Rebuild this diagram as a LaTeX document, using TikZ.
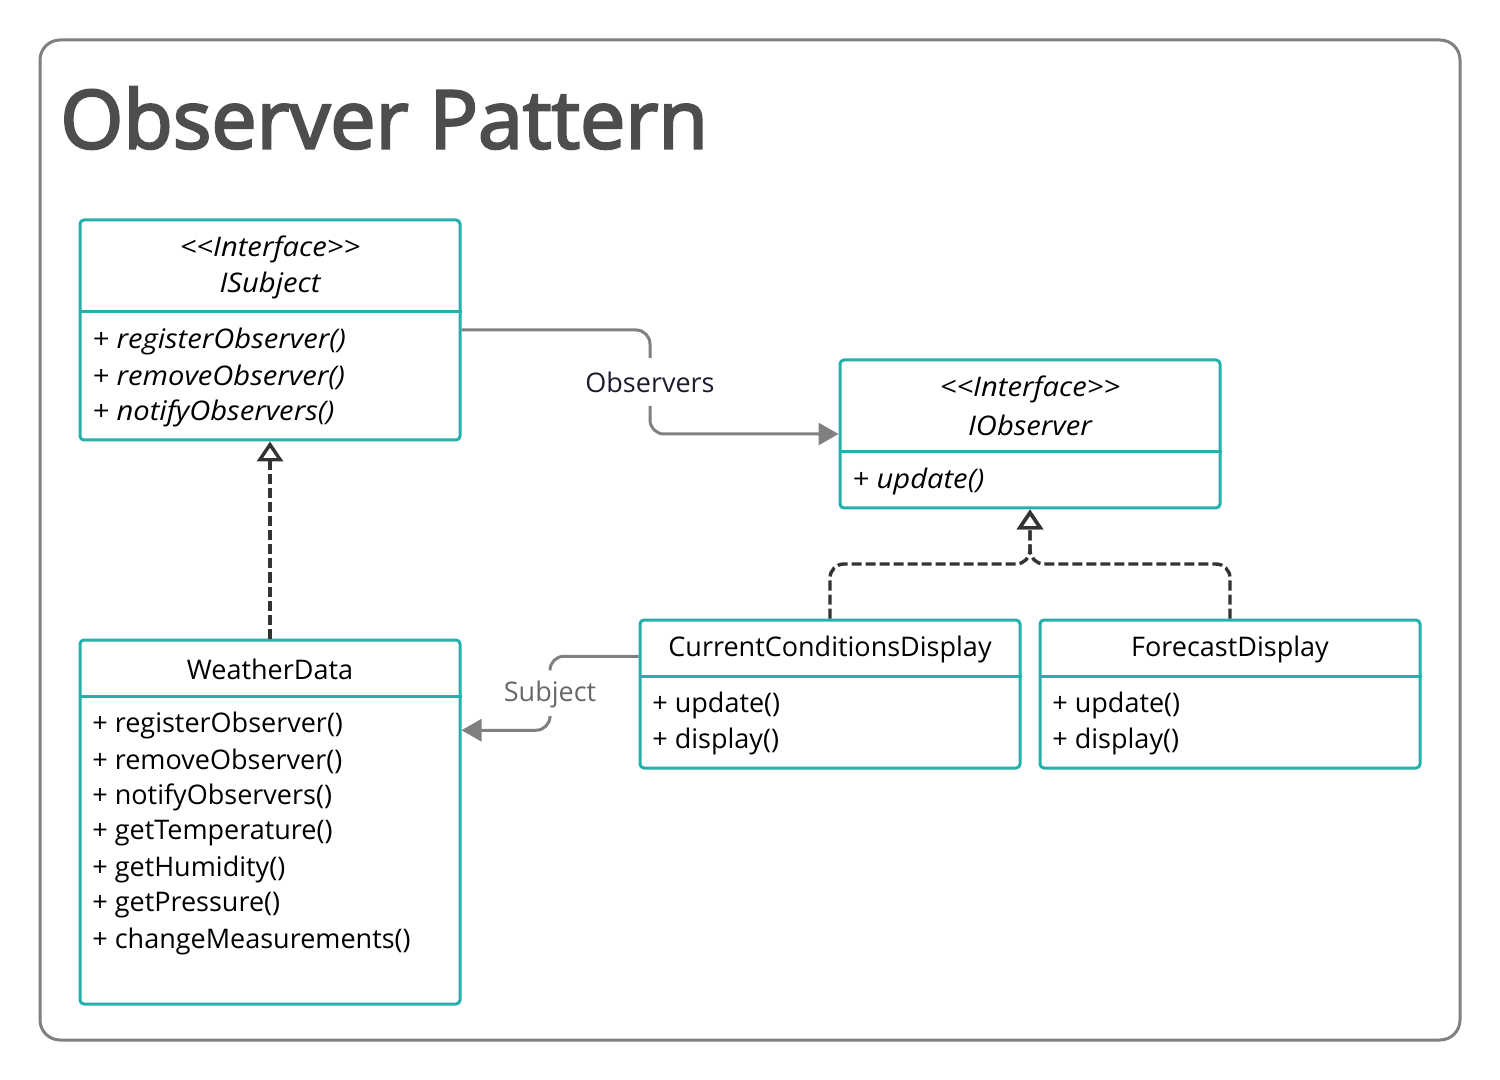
\documentclass[tikz,border=0pt]{standalone}
\usepackage{fontspec}
\setmainfont{Open Sans}[ItalicFeatures={FakeStretch=1.08}]
\newfontfamily\titlefont{Open Sans}[FakeBold=3]
\usetikzlibrary{arrows.meta,calc}

\definecolor{umlteal}{HTML}{26B0AC}
\definecolor{linegray}{HTML}{808080}
\definecolor{titlegray}{HTML}{4D4D4D}
\definecolor{dashgray}{HTML}{333333}
\definecolor{inkblue}{HTML}{1C1C2E}

\tikzset{
    umlbox/.style={draw=umlteal, line width=1.5pt, rounded corners=2pt, minimum width=190pt, inner sep=0pt},
    divider/.style={draw=umlteal, line width=1.5pt},
    txt/.style={inner sep=0pt, font=\fontsize{13.5}{16}\selectfont},
    itxt/.style={txt, font=\fontsize{13.5}{16}\selectfont\itshape},
    member/.style={txt, anchor=west},
    imember/.style={itxt, anchor=west},
    assoc/.style={draw=linegray, line width=1.5pt, rounded corners=7pt},
    filled/.style={-{Triangle[length=10pt, width=11pt]}},
    realize/.style={draw=dashgray, line width=1.7pt, dash pattern=on 5pt off 2pt, rounded corners=7pt},
    hollow/.style={-{Triangle[open, length=10pt, width=13pt]}}
}

\newcommand{\stereo}[1]{{<}\kern0pt{<}#1{>}\kern0pt{>}}

\begin{document}
\begin{tikzpicture}[x=0.5pt, y=-0.5pt]
    \useasboundingbox (0,0) rectangle (1500,1080);
    \draw[linegray, line width=1.5pt, rounded corners=10pt] (40,40) rectangle (1460,1040);

    \node[anchor=west, inner sep=0pt, text=titlegray, font=\fontsize{40.4}{46}\titlefont] (title) at (60,118) {Observer Pattern};

    % boxes
    \node[umlbox, minimum height=110pt] (isubject) at (270,330) {};
    \node[umlbox, minimum height=74pt] (iobserver) at (1030,434) {};
    \node[umlbox, minimum height=182pt] (weather) at (270,822) {};
    \node[umlbox, minimum height=74pt] (ccd) at (830,694) {};
    \node[umlbox, minimum height=74pt] (forecast) at (1230,694) {};

    \draw[divider] (isubject.west |- 0,312) -- (isubject.east |- 0,312);
    \draw[divider] (iobserver.west |- 0,452) -- (iobserver.east |- 0,452);
    \draw[divider] (weather.west |- 0,696) -- (weather.east |- 0,696);
    \draw[divider] (ccd.west |- 0,676) -- (ccd.east |- 0,676);
    \draw[divider] (forecast.west |- 0,676) -- (forecast.east |- 0,676);

    % ISubject
    \node[itxt] (isubjectst) at (270,249) {\stereo{Interface}};
    \node[itxt] (isubjectname) at (270,285) {ISubject};
    \node[imember] (isreg) at (92,341) {+ registerObserver()};
    \node[imember] (isrem) at (92,377) {+ removeObserver()};
    \node[imember] (isnot) at (92,413) {+ notifyObservers()};

    % IObserver
    \node[itxt] (iobserverst) at (1030,389) {\stereo{Interface}};
    \node[itxt] (iobservername) at (1030,425) {IObserver};
    \node[imember] (ioupd) at (852,481) {+ update()};

    % WeatherData
    \node[txt] (weathername) at (270,669) {WeatherData};
    \foreach \op [count=\i from 0] in {registerObserver(), removeObserver(), notifyObservers(),
        getTemperature(), getHumidity(), getPressure(), changeMeasurements()}
        \node[member] (wd\i) at (92,725+36*\i) {+ \op};

    % displays
    \node[txt] (ccdname) at (830,649) {CurrentConditionsDisplay};
    \node[member] (ccdupd) at (652,705) {+ update()};
    \node[member] (ccddis) at (652,741) {+ display()};
    \node[txt] (forecastname) at (1230,649) {ForecastDisplay};
    \node[member] (fdupd) at (1052,705) {+ update()};
    \node[member] (fddis) at (1052,741) {+ display()};

    % associations
    \node[txt, text=inkblue, inner xsep=4pt, inner ysep=6.5pt] (obslabel) at (650,382) {Observers};
    \draw[assoc] (isubject.east) -| (obslabel.north);
    \draw[assoc, filled] (obslabel.south) |- (iobserver.west);

    \node[txt, text=titlegray!85, inner xsep=4pt, inner ysep=5pt] (subjlabel) at (550,694) {Subject};
    \draw[assoc] ($(ccd.north west)!.25!(ccd.south west)$) -| (subjlabel.north);
    \draw[assoc, filled] (subjlabel.south) |- ($(weather.north east)!.25!(weather.south east)$);

    % realizations
    \coordinate (join) at (1030,564);
    \draw[realize, hollow] (weather.north) -- (isubject.south);
    \draw[realize, hollow] (ccd.north) |- (join) -- (iobserver.south);
    \draw[realize, hollow] (forecast.north) |- (join) -- (iobserver.south);
\end{tikzpicture}
\end{document}
